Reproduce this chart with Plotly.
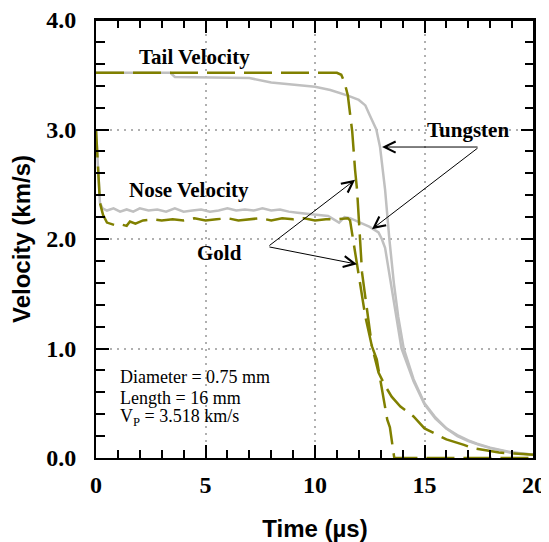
import plotly.graph_objects as go

# ---------------- data ----------------
w_tail_t = [0, 3.4, 3.6, 5.0, 7.0, 8.0, 9.0, 10.0, 10.7, 11.5, 12.0, 12.3, 12.5, 12.8,
            12.97, 13.1, 13.2, 13.4, 13.6, 13.8, 14.05, 14.5, 15.0, 15.5, 16.0, 16.5,
            17.0, 17.4, 18.0, 18.9, 19.5, 20.0]
w_tail_v = [3.518, 3.518, 3.48, 3.475, 3.47, 3.43, 3.41, 3.39, 3.36, 3.31, 3.27, 3.22,
            3.13, 3.0, 2.84, 2.63, 2.45, 1.99, 1.6, 1.29, 1.0, 0.72, 0.5, 0.37, 0.27,
            0.21, 0.16, 0.13, 0.095, 0.055, 0.04, 0.03]

w_nose_t = [0, 0.18, 0.3, 0.5, 0.8, 1.1, 1.4, 1.7, 2.0, 2.4, 2.8, 3.2, 3.6, 4.0, 4.4,
            4.8, 5.2, 5.6, 6.0, 6.4, 6.8, 7.2, 7.6, 8.0, 8.4, 8.8, 9.2, 9.6, 10.2, 10.6,
            11.1, 11.35, 11.6, 12.05, 12.5, 12.9, 13.05, 13.2, 13.35, 13.5, 13.7, 13.95,
            14.5, 15.0, 15.5, 16.0, 16.5, 17.0, 17.5, 18.0, 18.9, 19.5, 20.0]
w_nose_v = [3.0, 2.33, 2.28, 2.26, 2.28, 2.25, 2.27, 2.25, 2.28, 2.26, 2.27, 2.25, 2.28,
            2.25, 2.26, 2.27, 2.25, 2.26, 2.28, 2.26, 2.27, 2.26, 2.28, 2.26, 2.27, 2.25,
            2.24, 2.23, 2.22, 2.21, 2.15, 2.2, 2.19, 2.15, 2.11, 2.06, 2.0, 1.92, 1.74,
            1.53, 1.29, 1.0, 0.7, 0.49, 0.36, 0.27, 0.2, 0.155, 0.12, 0.09, 0.05, 0.04, 0.03]

g_tail_t = [0, 11.0, 11.2, 11.35, 11.5, 11.7, 11.83, 11.92, 12.15, 12.4, 12.6, 12.82,
            12.97, 13.1, 13.3, 13.42, 13.56, 13.62, 20.0]
g_tail_v = [3.518, 3.518, 3.5, 3.43, 3.31, 2.98, 2.63, 2.45, 1.69, 1.29, 1.02, 0.9,
            0.73, 0.56, 0.35, 0.28, 0.05, 0.0, 0.0]

g_nose_t = [0, 0.18, 0.32, 0.5, 0.96, 1.2, 1.4, 1.55, 1.8, 2.15, 2.6, 3.0, 3.5, 4.0,
            4.5, 5.0, 5.5, 6.0, 6.5, 7.0, 7.5, 8.0, 8.5, 9.0, 9.5, 10.0, 10.5, 11.0,
            11.5, 11.6, 11.75, 11.97, 12.3, 12.6, 12.9, 13.2, 13.5, 13.9, 14.5, 15.0,
            15.4, 16.0, 16.8, 17.2, 17.8, 18.4, 19.1, 20.0]
g_nose_v = [3.0, 2.33, 2.22, 2.15, 2.12, 2.13, 2.12, 2.16, 2.14, 2.17, 2.18, 2.17,
            2.18, 2.17, 2.19, 2.17, 2.18, 2.19, 2.17, 2.18, 2.19, 2.17, 2.19, 2.18,
            2.19, 2.17, 2.18, 2.18, 2.19, 2.17, 1.99, 1.69, 1.29, 1.02, 0.78, 0.66,
            0.56, 0.47, 0.38, 0.27, 0.23, 0.17, 0.12, 0.09, 0.07, 0.05, 0.04, 0.03]

x_range = [0, 20]
y_range = [0, 4]
x_tick_vals = [0, 5, 10, 15, 20]
x_tick_text = ["0", "5", "10", "15", "20"]
y_tick_vals = [0, 1, 2, 3, 4]
y_tick_text = ["0.0", "1.0", "2.0", "3.0", "4.0"]

GRAY = "#c0c0c0"
GOLD = "#808000"
SERIF_B = "Liberation Serif"

fig = go.Figure()
gray_line = dict(color=GRAY, width=2.5)
gold_line = dict(color=GOLD, width=2.5, dash="28px,9px")
fig.add_trace(go.Scatter(x=w_tail_t, y=w_tail_v, mode="lines", line=gray_line, showlegend=False))
fig.add_trace(go.Scatter(x=w_nose_t, y=w_nose_v, mode="lines", line=gray_line, showlegend=False))
fig.add_trace(go.Scatter(x=g_tail_t, y=g_tail_v, mode="lines", line=gold_line, showlegend=False))
fig.add_trace(go.Scatter(x=g_nose_t, y=g_nose_v, mode="lines", line=gold_line, showlegend=False))

label_font = dict(family=SERIF_B, size=21, color="black")
def label(x, y, text):
    fig.add_annotation(x=x, y=y, text="<b>%s</b>" % text, showarrow=False,
                       font=label_font, xanchor="center", yanchor="middle")

label(4.52, 3.66, "Tail Velocity")
label(4.25, 2.45, "Nose Velocity")
label(5.66, 1.87, "Gold")
label(17.0, 3.0, "Tungsten")

def arrow(x0, y0, x1, y1):
    fig.add_annotation(x=x1, y=y1, ax=x0, ay=y0, xref="x", yref="y", axref="x", ayref="y",
                       text="", showarrow=True, arrowhead=5, arrowsize=2.2, arrowwidth=1,
                       arrowcolor="black", standoff=0, startstandoff=0)

arrow(7.85, 1.93, 11.83, 2.54)
arrow(7.85, 1.93, 11.92, 1.77)
arrow(17.49, 2.84, 13.06, 2.84)
arrow(17.49, 2.84, 12.6, 2.09)

info_font = dict(family=SERIF_B, size=18, color="black")
for yy, txt in [(0.74, "Diameter = 0.75 mm"), (0.55, "Length = 16 mm"),
                (0.37, "V<sub>P</sub> = 3.518 km/s")]:
    fig.add_annotation(x=1.0, y=yy, text=txt, showarrow=False, font=info_font,
                       xanchor="left", yanchor="middle")

axis_common = dict(
    showline=True, linecolor="black", linewidth=2, mirror="allticks",
    ticks="inside", ticklen=13, tickwidth=2, tickcolor="black",
    showgrid=True, gridcolor="#b0b0b0", gridwidth=1.5, griddash="2px,5px",
    zeroline=False, automargin=False, ticklabeloverflow="allow",
    tickfont=dict(family=SERIF_B, size=24, color="black"),
)
x_minor = dict(dtick=1, ticks="inside", ticklen=8, tickwidth=2,
               tickcolor="black", showgrid=False)
y_minor = dict(dtick=0.2, ticks="inside", ticklen=9, tickwidth=2,
               tickcolor="black", showgrid=False)

fig.update_xaxes(range=x_range, tickmode="array", tickvals=x_tick_vals,
                 ticktext=["<b>%s</b>" % t for t in x_tick_text],
                 minor=x_minor, ticklabelstandoff=4,
                 title=dict(text="<b>Time (µs)</b>", standoff=24,
                            font=dict(family="Liberation Sans", size=24, color="black")),
                 **axis_common)
fig.update_yaxes(range=y_range, tickmode="array", tickvals=y_tick_vals,
                 ticktext=["<b>%s</b>" % t for t in y_tick_text],
                 minor=y_minor, ticklabelstandoff=13,
                 title=dict(text="<b>Velocity (km/s)</b>", standoff=14,
                            font=dict(family="Liberation Sans", size=24, color="black")),
                 **axis_common)

# frame axes on the top and right carrying the mirrored ticks
frame_common = dict(showline=True, linecolor="black", linewidth=2, ticks="inside",
                    ticklen=13, tickwidth=2, tickcolor="black", showticklabels=False,
                    showgrid=False, zeroline=False, automargin=False, tickmode="array")
fig.update_layout(
    xaxis2=dict(overlaying="x", side="top", anchor="y", range=x_range,
                tickvals=x_tick_vals, minor=x_minor, **frame_common),
    yaxis2=dict(overlaying="y", side="right", anchor="x", range=y_range,
                tickvals=y_tick_vals, minor=y_minor, **frame_common),
)
# plot frame (top and right edges), in paper coordinates so it is never clipped
fig.add_shape(type="line", xref="paper", yref="paper", x0=0, x1=1, y0=1, y1=1,
              line=dict(color="black", width=2), layer="above")
fig.add_shape(type="line", xref="paper", yref="paper", x0=1, x1=1, y0=0, y1=1,
              line=dict(color="black", width=2), layer="above")

# the page places the figure 8 px in from the top-left corner (default body margin),
# so the figure is sized to end at the window edge
fig.update_layout(width=541, height=534, plot_bgcolor="white", paper_bgcolor="white",
                  margin=dict(l=88, r=15, t=12, b=84), showlegend=False)

fig.write_html("out.html")
